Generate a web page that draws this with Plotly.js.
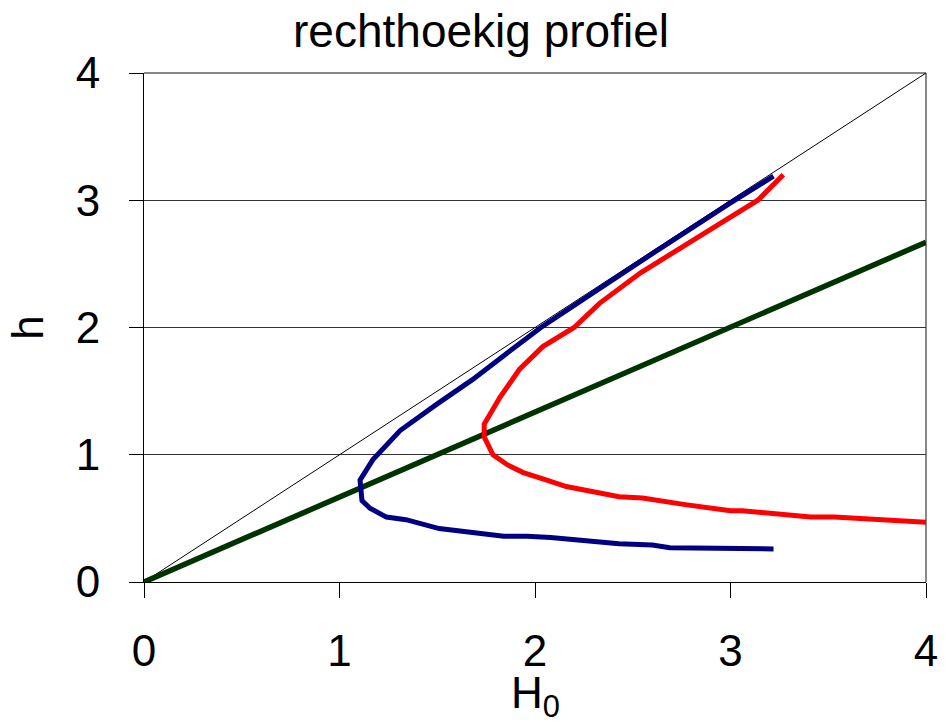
<!DOCTYPE html>
<html>
<head>
<meta charset="utf-8">
<script src="https://cdn.plot.ly/plotly-3.0.1.min.js"></script>
<style>html,body{margin:0;padding:0;background:#fff;}#chart{width:951px;height:724px;}</style>
</head>
<body>
<div id="chart"></div>
<script>
// Data
const blueH = [3.22, 3.00, 2.60, 2.30, 2.03, 1.85, 1.68, 1.50, 1.31, 1.17, 1.105, 1.115, 1.156, 1.24, 1.34, 1.51, 1.57, 1.84, 1.96, 2.08, 2.43, 2.60, 2.69, 3.22];
const blueh = [3.19, 2.98, 2.58, 2.28, 2.00, 1.79, 1.59, 1.40, 1.19, 0.96, 0.80, 0.64, 0.58, 0.51, 0.49, 0.42, 0.41, 0.36, 0.36, 0.35, 0.30, 0.29, 0.27, 0.26];

const redH = [3.27, 3.14, 2.95, 2.73, 2.54, 2.33, 2.20, 2.04, 1.92, 1.82, 1.77, 1.74, 1.74, 1.785, 1.86, 1.94, 2.06, 2.16, 2.43, 2.55, 2.76, 3.00, 3.06, 3.41, 3.53, 3.87, 4.00];
const redh = [3.20, 3.00, 2.82, 2.61, 2.43, 2.19, 2.00, 1.85, 1.67, 1.45, 1.32, 1.24, 1.14, 1.00, 0.92, 0.86, 0.80, 0.75, 0.67, 0.66, 0.61, 0.56, 0.56, 0.51, 0.51, 0.48, 0.47];

const greenH = [0, 4];
const greenh = [0, 2.67];

const diagH = [0, 4];
const diagh = [0, 4];

const tickVals = [0, 1, 2, 3, 4];
const tickText = ['0', '1', '2', '3', '4'];
const xTitle = 'H<sub>0</sub>';
const yTitle = 'h';

const FONT = 'Liberation Sans, Arial, sans-serif';

const traces = [
  {x: diagH, y: diagh, mode: 'lines', line: {color: '#000000', width: 1}, hoverinfo: 'skip'},
  {x: greenH, y: greenh, mode: 'lines', line: {color: '#003300', width: 5.5}},
  {x: redH, y: redh, mode: 'lines', line: {color: '#FF0000', width: 5}},
  {x: blueH, y: blueh, mode: 'lines', line: {color: '#000080', width: 5}}
];

const layout = {
  width: 951, height: 724,
  margin: {l: 144, r: 25, t: 73, b: 142},
  paper_bgcolor: '#ffffff', plot_bgcolor: '#ffffff',
  showlegend: false,
  font: {family: FONT, color: '#000000'},
  title: {text: 'rechthoekig profiel', font: {family: FONT, size: 46, color: '#000'},
          x: 481/951, xanchor: 'center', xref: 'container', y: 1 - 31/724, yref: 'container', yanchor: 'middle'},
  xaxis: {
    range: [0, 4], tickvals: tickVals, ticktext: tickText,
    showgrid: false, zeroline: false,
    showline: true, linecolor: '#000', linewidth: 1,
    ticks: 'outside', ticklen: 15, tickcolor: '#000', tickwidth: 1,
    tickfont: {family: FONT, size: 44, color: '#000'},
    ticklabelstandoff: 15,
    automargin: false, fixedrange: true
  },
  yaxis: {
    range: [0, 4], tickvals: tickVals, ticktext: tickText,
    showgrid: true, gridcolor: '#333333', gridwidth: 1,
    zeroline: false,
    showline: true, linecolor: '#000', linewidth: 1,
    ticks: 'outside', ticklen: 14, tickcolor: '#000', tickwidth: 1,
    tickfont: {family: FONT, size: 44, color: '#000'},
    ticklabelstandoff: 20,
    title: {text: yTitle, font: {family: FONT, size: 44, color: '#000'}, standoff: 18},
    automargin: false, fixedrange: true
  },
  annotations: [
    {text: xTitle, xref: 'paper', yref: 'paper', x: 0.5, y: 0, xanchor: 'center', yanchor: 'top',
     yshift: -84, showarrow: false, font: {family: FONT, size: 44, color: '#000'}}
  ],
  shapes: [
    {type: 'line', xref: 'paper', yref: 'paper', x0: 0, x1: 1, y0: 1, y1: 1, line: {color: '#888888', width: 2}, layer: 'below'},
    {type: 'line', xref: 'paper', yref: 'paper', x0: 1, x1: 1, y0: 0, y1: 1, line: {color: '#888888', width: 2}, layer: 'below'}
  ]
};

Plotly.newPlot('chart', traces, layout, {displayModeBar: false, staticPlot: true});
</script>
</body>
</html>
